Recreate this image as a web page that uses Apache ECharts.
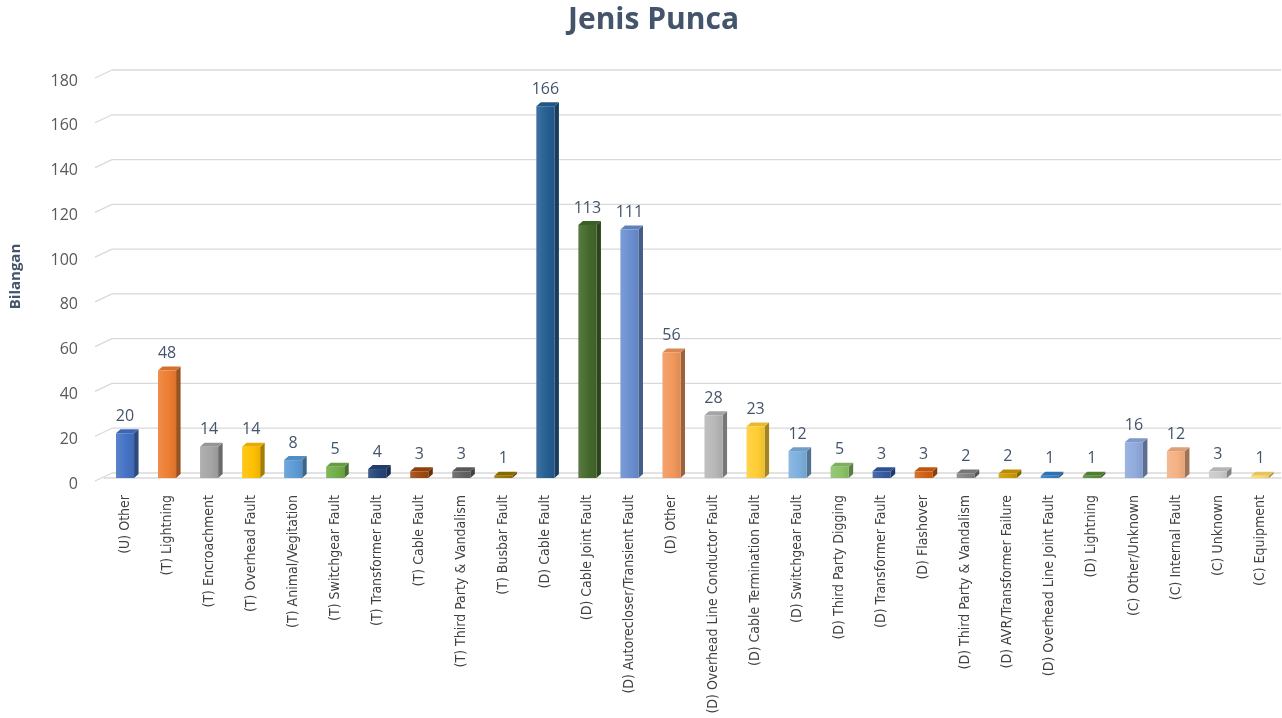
<!DOCTYPE html>
<html>
<head>
<meta charset="utf-8">
<title>Jenis Punca</title>
<script src="https://cdn.jsdelivr.net/npm/echarts@6/dist/echarts.min.js"></script>
<style>
  html, body { margin: 0; padding: 0; background: #ffffff; }
  #chart { width: 1282px; height: 718px; }
</style>
</head>
<body>
<div id="chart"></div>
<script>
// Fault cause categories (U = unknown, T = transmission, D = distribution, C = customer)
const categories = [
  '(U) Other', '(T) Lightning', '(T) Encroachment', '(T) Overhead Fault',
  '(T) Animal/Vegitation', '(T) Switchgear Fault', '(T) Transformer Fault',
  '(T) Cable Fault', '(T) Third Party & Vandalism', '(T) Busbar Fault',
  '(D) Cable Fault', '(D) Cable Joint Fault', '(D) Autorecloser/Transient Fault',
  '(D) Other', '(D) Overhead Line Conductor Fault', '(D) Cable Termination Fault',
  '(D) Switchgear Fault', '(D) Third Party Digging', '(D) Transformer Fault',
  '(D) Flashover', '(D) Third Party & Vandalism', '(D) AVR/Transformer Failure',
  '(D) Overhead Line Joint Fault', '(D) Lightning', '(C) Other/Unknown',
  '(C) Internal Fault', '(C) Unknown', '(C) Equipment'
];

// Number of incidents per cause
const counts = [
  20, 48, 14, 14, 8, 5, 4, 3, 3, 1,
  166, 113, 111, 56, 28, 23, 12, 5, 3, 3,
  2, 2, 1, 1, 16, 12, 3, 1
];

// Office palette cycle: accents, darker, lighter, darker still, lighter still
const barColors = [
  '#4472C4', '#ED7D31', '#A5A5A5', '#FFC000', '#5B9BD5', '#70AD47',
  '#264478', '#9E480E', '#636363', '#997300', '#255E91', '#43682B',
  '#698ED0', '#F1975A', '#B7B7B7', '#FFCD33', '#7CAFDD', '#8CC168',
  '#335AA1', '#D26012', '#848484', '#CC9A00', '#327DC2', '#5A8A39',
  '#8FAADC', '#F4B183', '#C9C9C9', '#FFD966'
];

// Value axis ticks
const yTickValues = [0, 20, 40, 60, 80, 100, 120, 140, 160, 180];

const chart = echarts.init(document.getElementById('chart'));

// Mix a hex colour towards white (k > 0) or black (k < 0)
function shade(hex, k) {
  const n = parseInt(hex.slice(1), 16);
  const rgb = [(n >> 16) & 255, (n >> 8) & 255, n & 255].map(c =>
    Math.round(k >= 0 ? c + (255 - c) * k : c * (1 + k)));
  return 'rgb(' + rgb.join(',') + ')';
}

// Extruded bar: right side face, top face, then front face
function renderBlock(params, api) {
  const idx = api.value(0);
  const v = api.value(1);
  const top = api.coord([idx, v]);
  const base = api.coord([idx, 0]);
  const band = api.size([1, 0])[0];
  const w = band * 0.43;
  const dx = 4.5, dy = 4;
  const x0 = top[0] - w / 2, x1 = top[0] + w / 2;
  const yT = top[1], yB = base[1];
  const c = barColors[params.dataIndex % barColors.length];
  const front = new echarts.graphic.LinearGradient(0, 0, 1, 0, [
    { offset: 0, color: shade(c, 0.12) },
    { offset: 0.6, color: c },
    { offset: 1, color: shade(c, -0.08) }
  ]);
  return {
    type: 'group',
    children: [
      {
        type: 'polygon',
        shape: { points: [[x1, yT], [x1 + dx, yT - dy], [x1 + dx, yB - dy], [x1, yB]] },
        style: { fill: shade(c, -0.35) }
      },
      {
        type: 'polygon',
        shape: { points: [[x0, yT], [x0 + dx, yT - dy], [x1 + dx, yT - dy], [x1, yT]] },
        style: { fill: shade(c, -0.1) }
      },
      {
        type: 'rect',
        shape: { x: x0, y: yT, width: w, height: yB - yT },
        style: { fill: front }
      }
    ]
  };
}

// Gridline on the back wall: slanted side-wall edge, then a horizontal run
function renderWallLine(params, api) {
  const v = api.value(0);
  const band = api.size([1, 0])[0];
  const pL = api.coord([0, v]);
  const pR = api.coord([categories.length - 1, v]);
  const left = pL[0] - band / 2;
  const right = pR[0] + band / 2;
  const y = pL[1];
  const stroke = { stroke: '#D9D9D9', lineWidth: 1.3 };
  return {
    type: 'group',
    children: [
      { type: 'line', shape: { x1: left - 9, y1: y + 3, x2: left + 8, y2: y - 5 }, style: stroke },
      { type: 'line', shape: { x1: left + 8, y1: y - 5, x2: right, y2: y - 5 }, style: stroke }
    ]
  };
}

chart.setOption({
  animation: false,
  backgroundColor: '#ffffff',
  title: {
    text: 'Jenis Punca',
    left: 563,
    top: 0,
    textStyle: { fontFamily: 'Open Sans', fontWeight: 'bold', fontSize: 30, color: '#44546A' }
  },
  grid: { left: 102, right: 1, top: 75, bottom: 240 },
  xAxis: {
    type: 'category',
    data: categories,
    offset: 3,
    axisTick: { show: false },
    axisLine: { lineStyle: { color: '#D9D9D9', width: 1.5 } },
    axisLabel: {
      rotate: 90,
      interval: 0,
      margin: 14,
      fontFamily: '"Liberation Sans Narrow", "DejaVu Sans Condensed", sans-serif',
      fontSize: 14,
      color: '#404040'
    }
  },
  yAxis: {
    type: 'value',
    min: yTickValues[0],
    max: yTickValues[yTickValues.length - 1],
    interval: yTickValues[1] - yTickValues[0],
    name: 'Bilangan',
    nameLocation: 'middle',
    nameGap: 81,
    nameTextStyle: { fontFamily: 'Open Sans', fontWeight: 'bold', fontSize: 15, color: '#44546A' },
    axisLine: { show: false },
    axisTick: { show: false },
    axisLabel: {
      margin: 26,
      verticalAlign: 'top',
      lineHeight: 12,
      fontFamily: 'Open Sans',
      fontSize: 16,
      color: '#595959'
    },
    splitLine: { show: false }
  },
  series: [
    {
      type: 'custom',
      renderItem: renderWallLine,
      encode: { y: 0 },
      data: yTickValues.map(v => [v]),
      silent: true,
      z: 1
    },
    {
      type: 'custom',
      renderItem: renderBlock,
      encode: { x: 0, y: 1 },
      data: counts.map((v, i) => [i, v]),
      z: 3
    },
    {
      // invisible bars carrying the value labels
      type: 'bar',
      data: counts,
      barWidth: '43%',
      itemStyle: { color: 'rgba(0,0,0,0)' },
      label: {
        show: true,
        position: 'top',
        distance: 9,
        fontFamily: 'Open Sans',
        fontSize: 16,
        color: '#44546A'
      },
      silent: true,
      z: 4
    }
  ]
});
</script>
</body>
</html>
